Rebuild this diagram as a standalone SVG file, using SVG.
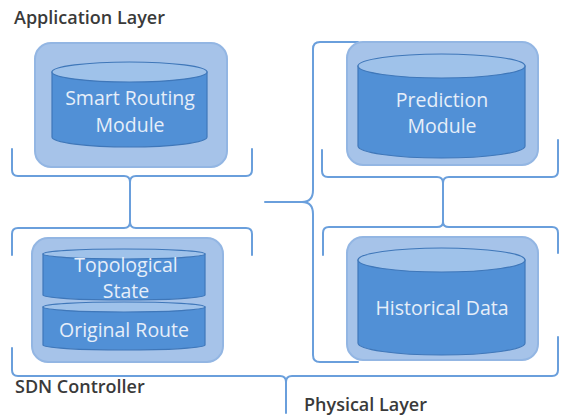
<svg xmlns="http://www.w3.org/2000/svg" width="563" height="418" viewBox="0 0 563 418">
<style>
.outer{fill:#a6c3e9;stroke:#93b6e3;stroke-width:2}
.body{fill:#5190d6;stroke:#3f77b9;stroke-width:1.2}
.top{fill:#9fc2ea;stroke:#3f77b9;stroke-width:1.2}
.lbl{font-family:"Open Sans","Liberation Sans",sans-serif;font-size:19.5px;fill:#e6eef9;text-anchor:middle}
.layer{font-family:"Open Sans","Liberation Sans",sans-serif;font-size:18px;font-weight:600;fill:#3a3a3a}
.brace{fill:none;stroke:#6a9fdc;stroke-width:2;stroke-linecap:round;stroke-linejoin:round}
</style>
<rect width="563" height="418" fill="#ffffff"/>
<g id="labels">
<text class="layer" x="14" y="24">Application Layer</text>
<text class="layer" x="15" y="393">SDN Controller</text>
<text class="layer" x="304" y="411">Physical Layer</text>
</g>
<g id="connectors">
<path class="brace" d="M12,149 V170 Q12,176 18,176 H124 Q130,176 130,182"/>
<path class="brace" d="M252,149 V170 Q252,176 246,176 H136 Q130,176 130,182"/>
<path class="brace" d="M130,182 V222"/>
<path class="brace" d="M12,255 V234 Q12,228 18,228 H124 Q130,228 130,222"/>
<path class="brace" d="M252,255 V234 Q252,228 246,228 H136 Q130,228 130,222"/>
<path class="brace" d="M322,150 V171 Q322,177 328,177 H437 Q443,177 443,183"/>
<path class="brace" d="M558,140 V171 Q558,177 552,177 H449 Q443,177 443,183"/>
<path class="brace" d="M443,183 V222"/>
<path class="brace" d="M323,255 V233 Q323,227 329,227 H437 Q443,227 443,222"/>
<path class="brace" d="M558,253 V233 Q558,227 552,227 H449 Q443,227 443,222"/>
<path class="brace" d="M358,42 H320 Q313,42 313,49 V190 Q313,202 302,202 H265"/>
<path class="brace" d="M358,362 H320 Q313,362 313,355 V214 Q313,202 302,202"/>
<path class="brace" d="M12,348 V370 Q12,376 18,376 H280 Q286,376 286,382 V413"/>
<path class="brace" d="M558,337 V370 Q558,376 552,376 H292 Q286,376 286,382"/>
</g>
<g id="smart-routing">
<rect class="outer" x="35" y="43" width="192" height="124" rx="16"/>
<path class="body" d="M52,72 V137 A77.5,10 0 0 0 207,137 V72 Z"/>
<ellipse class="top" cx="129.5" cy="72" rx="77.5" ry="10"/>
<text class="lbl" x="130" y="105">Smart Routing</text>
<text class="lbl" x="130" y="132">Module</text>
</g>
<g id="prediction">
<rect class="outer" x="347" y="42" width="191" height="123" rx="16"/>
<path class="body" d="M358,66 V146 A83.5,12 0 0 0 525,146 V66 Z"/>
<ellipse class="top" cx="441.5" cy="66" rx="83.5" ry="12"/>
<text class="lbl" x="442" y="107">Prediction</text>
<text class="lbl" x="442" y="133">Module</text>
</g>
<g id="sdn-controller">
<rect class="outer" x="32" y="238" width="191" height="124" rx="16"/>
<path class="body" d="M43,254 V295 A81,5 0 0 0 205,295 V254 Z"/>
<ellipse class="top" cx="124" cy="254" rx="81" ry="5"/>
<path class="body" d="M43,307 V345 A81,5 0 0 0 205,345 V307 Z"/>
<ellipse class="top" cx="124" cy="307" rx="81" ry="5"/>
<text class="lbl" x="126" y="272">Topological</text>
<text class="lbl" x="126" y="298">State</text>
<text class="lbl" x="124" y="337">Original Route</text>
</g>
<g id="historical">
<rect class="outer" x="347" y="237" width="191" height="123" rx="16"/>
<path class="body" d="M358,260 V343 A83.5,12 0 0 0 525,343 V260 Z"/>
<ellipse class="top" cx="441.5" cy="260" rx="83.5" ry="12"/>
<text class="lbl" x="442" y="315">Historical Data</text>
</g>
</svg>
